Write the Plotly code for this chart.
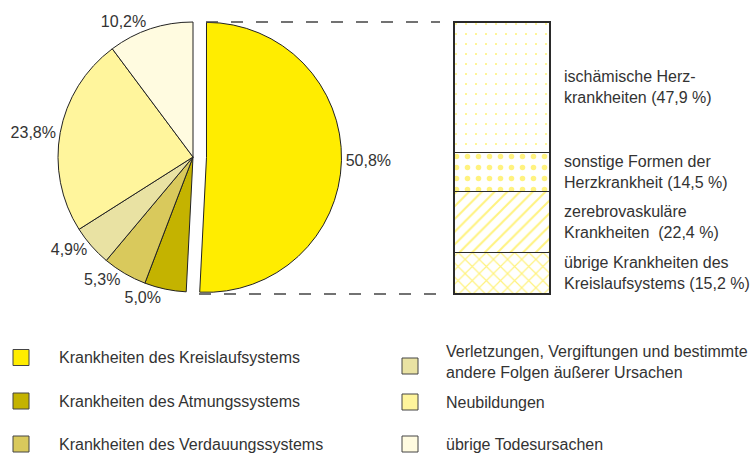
import plotly.graph_objects as go

# ---- data ----
pie_labels = [
    "Krankheiten des Kreislaufsystems",
    "Krankheiten des Atmungssystems",
    "Krankheiten des Verdauungssystems",
    "Verletzungen, Vergiftungen und bestimmte<br>andere Folgen äußerer Ursachen",
    "Neubildungen",
    "übrige Todesursachen",
]
pie_values = [50.8, 5.0, 5.3, 4.9, 23.8, 10.2]
pie_colors = ["#FFED00", "#C4B300", "#D9C95C", "#E9E2A3", "#FFF59C", "#FFFBE0"]

bar_labels = [
    "übrige Krankheiten des<br>Kreislaufsystems",
    "zerebrovaskuläre<br>Krankheiten ",
    "sonstige Formen der<br>Herzkrankheit",
    "ischämische Herz-<br>krankheiten",
]
bar_values = [15.2, 22.4, 14.5, 47.9]
bar_shapes = ["x", "/", ".", "."]
bar_sizes = [10, 9, 11, 10]
bar_solid = [0.22, 0.22, 0.2, 0.035]

FONT = "Liberation Sans, Arial, sans-serif"
TXT = "#333333"

fig = go.Figure()

# ---- pie ----
W, H = 755, 453
cx, cy, box = 193, 157, 297
fig.add_trace(go.Pie(
    labels=pie_labels, values=pie_values, sort=False, direction="clockwise",
    rotation=0, pull=[0.1, 0, 0, 0, 0, 0], automargin=False,
    marker=dict(colors=pie_colors, line=dict(color="#222222", width=1)),
    texttemplate="%{value:.1f}%", textposition="outside",
    outsidetextfont=dict(family=FONT, size=16, color=TXT),
    domain=dict(x=[(cx - box / 2) / W, (cx + box / 2) / W],
                y=[1 - (cy + box / 2) / H, 1 - (cy - box / 2) / H]),
    showlegend=False, hoverinfo="label+value",
))

# ---- stacked bar ----
for lab, v, shp, sz, so in zip(bar_labels, bar_values, bar_shapes, bar_sizes, bar_solid):
    fig.add_trace(go.Bar(
        x=[0], y=[v], width=1, name=lab, showlegend=False, cliponaxis=False,
        marker=dict(color="white", line=dict(color="#2a2a2a", width=1.5),
                    pattern=dict(shape=shp, fgcolor="#FFE600", bgcolor="white",
                                 size=sz, solidity=so, fillmode="overlay")),
        xaxis="x", yaxis="y", hoverinfo="y",
    ))

bx0, bx1, by0, by1 = 454, 550, 22, 294
PAD = 3  # px of room around the bar so its outline is not clipped
xpad = PAD / (bx1 - bx0)
ypad = PAD * 100 / (by1 - by0)
fig.update_layout(
    barmode="stack",
    xaxis=dict(domain=[(bx0 - PAD) / W, (bx1 + PAD) / W], range=[-0.5 - xpad, 0.5 + xpad],
               visible=False, fixedrange=True),
    yaxis=dict(domain=[1 - (by1 + PAD) / H, 1 - (by0 - PAD) / H], range=[-ypad, 100 + ypad],
               visible=False, fixedrange=True),
)

# bar labels
cum = 0
for lab, v in zip(bar_labels, bar_values):
    mid = cum + v / 2
    cum += v
    vs = f"{v:.1f}".replace(".", ",")
    fig.add_annotation(x=0.5, y=mid, xref="x", yref="y", xanchor="left", yanchor="middle",
                       xshift=12, text=f"{lab} ({vs} %)", showarrow=False, align="left",
                       font=dict(family=FONT, size=16, color=TXT))

# dashed connector lines
fig.add_shape(type="line", xref="paper", yref="y", x0=206 / W, y0=100, x1=(bx0 - 14) / W, y1=100,
              line=dict(color="#444444", width=1.5, dash="12px,13px"))
fig.add_shape(type="line", xref="paper", yref="y", x0=199 / W, y0=0, x1=(bx0 - 14) / W, y1=0,
              line=dict(color="#444444", width=1.5, dash="12px,13px"))

# ---- custom legend ----
leg_x = [13, 13, 13, 402, 402, 402]
leg_y = [357.5, 401, 444, 366, 402, 444]
txt_x = [57, 57, 57, 444, 444, 444]
txt_y = [357.5, 401, 444, 362, 402, 444]
for i, (lab, col) in enumerate(zip(pie_labels, pie_colors)):
    fig.add_shape(type="rect", xref="paper", yref="paper",
                  x0=leg_x[i] / W, x1=(leg_x[i] + 16) / W,
                  y0=1 - (leg_y[i] + 8) / H, y1=1 - (leg_y[i] - 8) / H,
                  fillcolor=col, line=dict(color="#444444", width=1))
    fig.add_annotation(x=txt_x[i] / W, y=1 - txt_y[i] / H, xref="paper", yref="paper",
                       xanchor="left", yanchor="middle", text=lab, showarrow=False,
                       align="left", font=dict(family=FONT, size=16, color=TXT))

fig.update_layout(
    width=W, height=H, margin=dict(l=0, r=0, t=0, b=0, pad=0, autoexpand=False),
    paper_bgcolor="white", plot_bgcolor="white",
    separators=",.", font=dict(family=FONT, size=16, color=TXT),
)

fig.write_html("out.html", config={"displayModeBar": False},
               post_script="document.body.style.margin='0';")
